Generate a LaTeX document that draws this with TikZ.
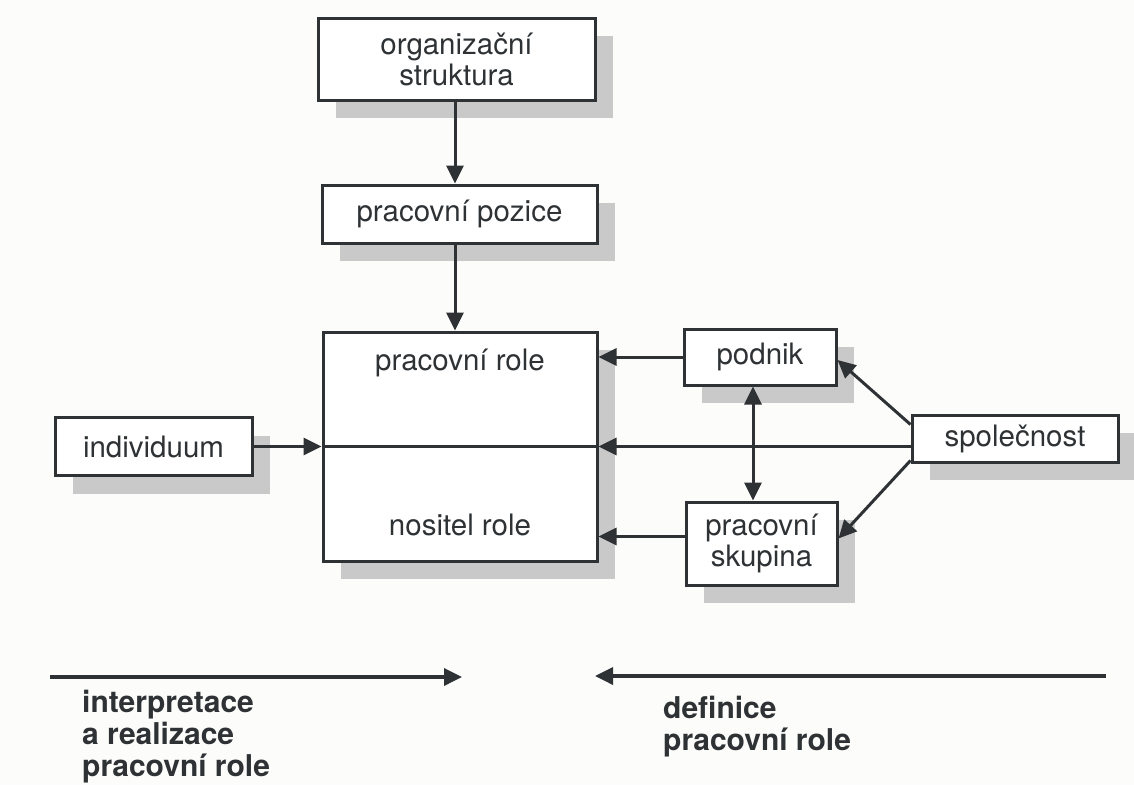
\documentclass[tikz,border=0pt]{standalone}
\usepackage{fontspec}
\setmainfont{TeX Gyre Heros}
\usetikzlibrary{arrows.meta,shadows,calc}
\definecolor{ink}{HTML}{2E3235}
\definecolor{shade}{HTML}{C9C9C9}
\definecolor{paper}{HTML}{FCFCFA}
\begin{document}
\begin{tikzpicture}[x=1pt,y=-1pt,
  box/.style={draw=ink, line width=3pt, fill=white, inner sep=0pt, align=center,
    font=\fontsize{29.5}{31}\selectfont, text=ink,
    drop shadow={shadow xshift=18pt, shadow yshift=-18pt, fill=shade, opacity=1}},
  lbl/.style={inner sep=0pt, font=\fontsize{29.5}{31}\selectfont, text=ink},
  tip/.style={-{Triangle[length=18pt,width=17pt]}},
  conn/.style={draw=ink, line width=3pt, tip},
  plain/.style={draw=ink, line width=3pt},
  legend/.style={inner sep=0pt, align=left, anchor=base west, text=ink,
    font=\fontsize{30}{32}\selectfont\bfseries}
]
\useasboundingbox[fill=paper] (0,0) rectangle (1134,785);

% nodes
\node[box, minimum width=277pt, minimum height=82pt] (org) at (456.5,59) {organizační\\struktura};
\node[box, minimum width=275pt, minimum height=58pt] (poz) at (459.5,214) {pracovní pozice};
\node[box, minimum width=274pt, minimum height=229pt] (big) at (460,446.5) {};
\node[lbl] (role) at (460,363) {pracovní role};
\node[lbl] (nos) at (460,525) {nositel role};
\node[box, minimum width=197pt, minimum height=58pt] (ind) at (153.5,446.5) {individuum};
\node[box, minimum width=152pt, minimum height=56pt] (pod) at (760,357) {podnik};
\node[box, minimum width=151pt, minimum height=83pt] (sku) at (761.5,543.5) {pracovní\\skupina};
\node[box, minimum width=206pt, minimum height=47pt] (spo) at (1015,438.5) {společnost};

\coordinate (ax) at (455,0);
\coordinate (vx) at (753,0);
\coordinate (skw) at ([yshift=7pt]sku.west);
\coordinate (ske) at ([yshift=5pt]sku.east);
\coordinate (pde) at ([yshift=-3pt]pod.east);
\coordinate (spa) at ([yshift=-11pt]spo.north west);
\coordinate (spb) at ([yshift=3pt]spo.south west);

% connectors
\draw[conn] (org.south -| ax) -- (poz.north -| ax);
\draw[conn] (poz.south -| ax) -- (big.north -| ax);
\draw[conn] (ind.east) -- (big.west);
\draw[plain] (big.west) -- (big.east);
\draw[conn] (spo.west |- big.east) -- (big.east);
\draw[conn] (pod.west) -- (big.east |- pod.west);
\draw[conn] (skw) -- (big.east |- skw);
\draw[conn, {Triangle[length=18pt,width=17pt]}-{Triangle[length=18pt,width=17pt]}] (pod.south -| vx) -- (sku.north -| vx);
\draw[conn] (spa) -- (pde);
\draw[conn] (spb) -- (ske);

% bottom legend
\coordinate (l0) at (50,677);
\coordinate (l1) at (462,677);
\coordinate (r0) at (1106,676);
\coordinate (r1) at (595,676);
\draw[conn, line width=3.5pt] (l0) -- (l1);
\draw[conn, line width=3.5pt] (r0) -- (r1);
\node[legend] (lt) at (82,776) {interpretace\\a realizace\\pracovní role};
\node[legend] (rt) at (663,750) {definice\\pracovní role};
\end{tikzpicture}
\end{document}
